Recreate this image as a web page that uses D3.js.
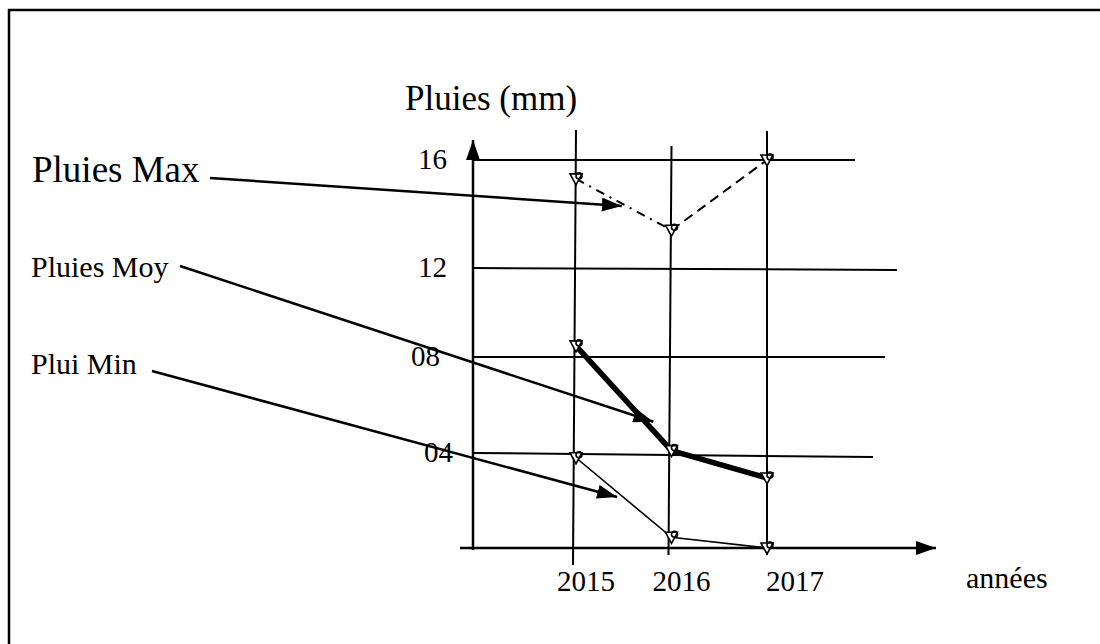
<!DOCTYPE html>
<html>
<head>
<meta charset="utf-8">
<script src="https://cdn.jsdelivr.net/npm/d3@7"></script>
<style>
  body { margin: 0; background: #fff; }
  svg { display: block; }
  text { font-family: "Liberation Serif", "Times New Roman", serif; fill: #000; }
</style>
</head>
<body>
<div id="chart"></div>
<script>
// Rainfall by year (mm)
const years = [2015, 2016, 2017];
const pluiesMax = [15.3, 13.4, 16];
const pluiesMoy = [8.5, 4.1, 2.95];
const pluiesMin = [3.8, 0.45, 0];
const yTicks = [4, 8, 12, 16];
const yTickLabels = ['04', '08', '12', '16'];

const width = 1100, height = 644;

const svg = d3.select('#chart').append('svg')
  .attr('width', width)
  .attr('height', height);

// frame (only left and top edges visible in the original page crop)
svg.append('rect')
  .attr('x', 9).attr('y', 10)
  .attr('width', 1200).attr('height', 800)
  .attr('fill', 'none')
  .attr('stroke', '#000')
  .attr('stroke-width', 2.5);

// hand drawn grid: spacing is not quite even, so the scale is piecewise
const y = d3.scaleLinear()
  .domain([0, 4, 8, 12, 16])
  .range([548, 453, 357, 268, 160]);

const x = d3.scaleLinear()
  .domain([2015, 2017])
  .range([576, 767]);

const defs = svg.append('defs');
defs.append('marker')
  .attr('id', 'head')
  .attr('viewBox', '0 0 20 14')
  .attr('refX', 20).attr('refY', 7)
  .attr('markerWidth', 20).attr('markerHeight', 14)
  .attr('markerUnits', 'userSpaceOnUse')
  .attr('orient', 'auto')
  .append('path')
  .attr('d', 'M0,0 L20,7 L0,14 Z')
  .attr('fill', '#000');

// horizontal grid lines
const gridEnds = [873, 885, 897, 855];
svg.append('g').selectAll('line')
  .data(yTicks)
  .join('line')
  .attr('x1', x.range()[0] - 103)
  .attr('x2', (d, i) => gridEnds[i])
  .attr('y1', d => y(d))
  .attr('y2', (d, i) => y(d) + (i === 0 ? 4 : i === 2 ? 2 : 0))
  .attr('stroke', '#000')
  .attr('stroke-width', 2);

// vertical year lines
const vTop = [130, 146, 131];
const vBottom = [565, 555, 555];
svg.append('g').selectAll('line')
  .data(years)
  .join('line')
  .attr('x1', d => x(d))
  .attr('x2', (d, i) => x(d) - (i === 2 ? 0 : 3))
  .attr('y1', (d, i) => vTop[i])
  .attr('y2', (d, i) => vBottom[i])
  .attr('stroke', '#000')
  .attr('stroke-width', 2);

// axes with arrows
const x0 = x.range()[0] - 103;
svg.append('line')
  .attr('x1', x0).attr('y1', y(0) + 2)
  .attr('x2', x0).attr('y2', 140)
  .attr('stroke', '#000').attr('stroke-width', 2.5)
  .attr('marker-end', 'url(#head)');
svg.append('line')
  .attr('x1', x0 - 13).attr('y1', y(0))
  .attr('x2', 936).attr('y2', y(0))
  .attr('stroke', '#000').attr('stroke-width', 2.5)
  .attr('marker-end', 'url(#head)');

// y tick labels
const tickNudge = [6, -7, 0, 0];
svg.append('g').selectAll('text')
  .data(yTicks)
  .join('text')
  .attr('x', (d, i) => 447 + tickNudge[i])
  .attr('y', d => y(d) + 9)
  .attr('text-anchor', 'end')
  .attr('font-size', 29)
  .text((d, i) => yTickLabels[i]);

// year labels
const yearNudge = [10, 10, 28];
svg.append('g').selectAll('text')
  .data(years)
  .join('text')
  .attr('x', (d, i) => x(d) + yearNudge[i])
  .attr('y', 591)
  .attr('text-anchor', 'middle')
  .attr('font-size', 29)
  .text(d => d);

svg.append('text')
  .attr('x', 966).attr('y', 588)
  .attr('font-size', 30)
  .text('années');

svg.append('text')
  .attr('x', 405).attr('y', 110)
  .attr('font-size', 35)
  .text('Pluies (mm)');

// series lines
const pts = arr => years.map((yr, i) => [x(yr), y(arr[i])]);
const line = d3.line();

const maxPts = pts(pluiesMax);
svg.append('path')
  .attr('d', line([maxPts[0], maxPts[1]]))
  .attr('fill', 'none').attr('stroke', '#000').attr('stroke-width', 2)
  .attr('stroke-dasharray', '9,6,2,6');
svg.append('path')
  .attr('d', line([maxPts[1], maxPts[2]]))
  .attr('fill', 'none').attr('stroke', '#000').attr('stroke-width', 2)
  .attr('stroke-dasharray', '10,6');

svg.append('path')
  .attr('d', line(pts(pluiesMoy)))
  .attr('fill', 'none').attr('stroke', '#000').attr('stroke-width', 5.5)
  .attr('stroke-linejoin', 'round')
  .attr('stroke-linecap', 'round');

svg.append('path')
  .attr('d', line(pts(pluiesMin)))
  .attr('fill', 'none').attr('stroke', '#000').attr('stroke-width', 1.6);

// little hand drawn markers
const markerData = [pluiesMax, pluiesMoy, pluiesMin]
  .flatMap(arr => years.map((yr, i) => ({ yr, v: arr[i] })));
const mk = svg.append('g').selectAll('g')
  .data(markerData)
  .join('g')
  .attr('transform', d => `translate(${x(d.yr)},${y(d.v)})`);
mk.append('path')
  .attr('d', 'M-6,-5 L0,6 L6,-5 Z')
  .attr('fill', '#fff').attr('stroke', '#000').attr('stroke-width', 1.6);
mk.append('circle')
  .attr('cx', 3).attr('cy', -3).attr('r', 3)
  .attr('fill', 'none').attr('stroke', '#000').attr('stroke-width', 1.6);

// annotations: label, label position, line start, arrow tip in data units
const annotations = [
  { text: 'Pluies Max', size: 37, lx: 32, ly: 182, sx: 210, sy: 178, tip: [2015.48, 14.3] },
  { text: 'Pluies Moy', size: 30, lx: 31, ly: 277, sx: 180, sy: 266, tip: [2015.81, 5.3] },
  { text: 'Plui Min', size: 30, lx: 31, ly: 374, sx: 152, sy: 371, tip: [2015.43, 2.15] }
];
const ann = svg.append('g').selectAll('g')
  .data(annotations)
  .join('g');
ann.append('text')
  .attr('x', d => d.lx).attr('y', d => d.ly)
  .attr('font-size', d => d.size)
  .text(d => d.text);
ann.append('line')
  .attr('x1', d => d.sx).attr('y1', d => d.sy)
  .attr('x2', d => x(d.tip[0])).attr('y2', d => y(d.tip[1]))
  .attr('stroke', '#000').attr('stroke-width', 2.5)
  .attr('marker-end', 'url(#head)');
</script>
</body>
</html>
